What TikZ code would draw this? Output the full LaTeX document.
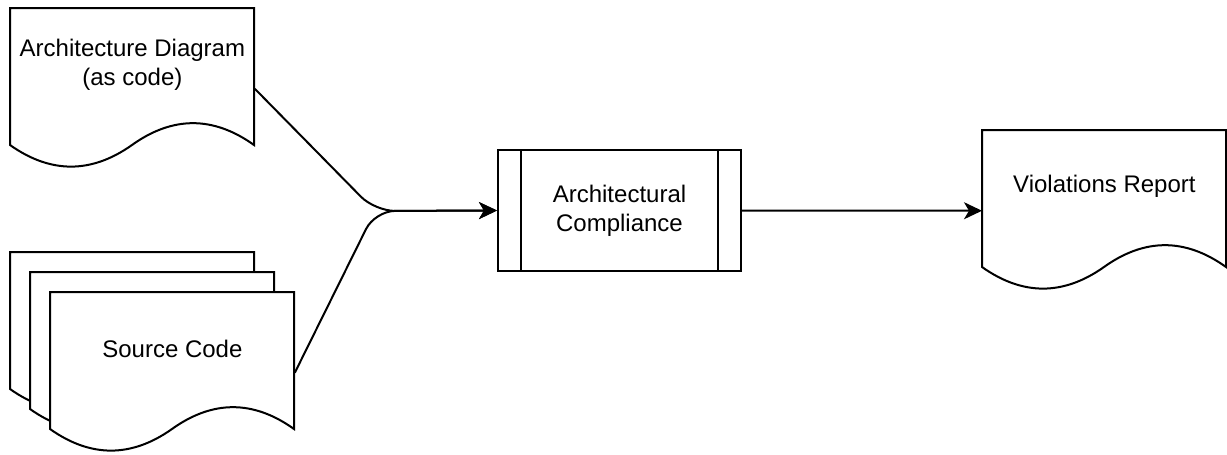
\documentclass[tikz,border=0pt]{standalone}
\usepackage{fontspec}
\setmainfont{Liberation Sans}
\usetikzlibrary{positioning, arrows.meta, calc}
\pgfdeclarelayer{background}
\pgfsetlayers{background,main}
\tikzset{
  doc/.style   = {rectangle, anchor=north west, minimum width=122pt,
                  minimum height=56.35pt, inner sep=0pt, align=center,
                  font=\fontsize{12}{14.5}\selectfont},
  proc/.style  = {draw, rectangle, line width=1pt, minimum width=121.5pt,
                  minimum height=60.5pt, inner sep=0pt, align=center,
                  font=\fontsize{12}{14.5}\selectfont,
                  append after command={\pgfextra{
                    \draw[line width=1pt] ([xshift=12pt]\tikzlastnode.north west)
                      -- ([xshift=12pt]\tikzlastnode.south west);
                    \draw[line width=1pt] ([xshift=-12pt]\tikzlastnode.north east)
                      -- ([xshift=-12pt]\tikzlastnode.south east);}}},
  sheet/.style = {draw, fill=white, line width=1pt},
  ar/.style    = {-{Stealth[length=9pt, width=8.5pt, inset=2.5pt]}, line width=1pt},
}
% page outline with a wavy bottom, hung from the node's top left corner
\newcommand{\docsheet}[1]{%
  \draw[sheet, shift={(#1.north west)}] (0,0) -- (244,0) -- (244,137)
    .. controls (203.3,107.9) and (162.7,107.9) .. (122,137)
    .. controls (81.3,165.8) and (40.7,165.8) .. (0,137) -- cycle;}

\begin{document}
\begin{tikzpicture}[x=0.5pt, y=-0.5pt]
  \useasboundingbox (0,0) rectangle (1227,455);

  \node[doc] (arch) at (10,8)  {Architecture Diagram\\(as code)};
  \node[doc] (src1) at (10,252) {};
  \node[doc] (src2) at (30,272) {};
  \node[doc] (src)  at (50,292) {Source Code};
  \node[proc] (chk) at (619.5,210.5) {Architectural\\Compliance};
  \node[doc] (viol) at (982,130) {Violations Report};

  \begin{pgfonlayer}{background}
    \docsheet{arch}
    \docsheet{src1}
    \docsheet{src2}
    \docsheet{src}
    \docsheet{viol}
  \end{pgfonlayer}

  \coordinate (join) at (375,211);
  \draw[ar, rounded corners=10pt] ([yshift=-12pt]arch.east) -- (join) -- (chk.west);
  \draw[ar, rounded corners=10pt] ([yshift=-12pt]src.east) -- (join) -- (chk.west);
  \draw[ar] (chk.east) -- ([yshift=-12pt]viol.west);
\end{tikzpicture}
\end{document}
